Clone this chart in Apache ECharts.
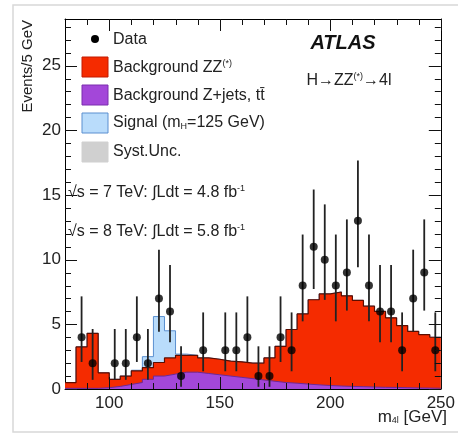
<!DOCTYPE html>
<html><head><meta charset="utf-8">
<script src="https://cdn.jsdelivr.net/npm/echarts@6/dist/echarts.min.js"></script>
<style>html,body{margin:0;padding:0;background:#fff}#c{width:458px;height:437px}</style>
</head><body><div id="c"></div>
<script>
// bin lower edges (5 GeV bins)
const binLowEdges = [80,85,90,95,100,105,110,115,120,125,130,135,140,145,150,155,160,165,170,175,180,185,190,195,200,205,210,215,220,225,230,235,240,245];
const binUpperLast = 250;
// total background (ZZ* + Z+jets): top of the red stack
const totalBackground = [0.5,3.25,4.3,1.25,0.75,1.0,1.4,1.65,2.05,2.4,2.6,2.6,2.4,2.3,2.15,2.1,2.0,2.0,2.4,3.3,4.6,5.8,6.9,7.35,7.5,7.2,6.85,6.4,6.0,5.5,4.9,4.45,4.2,4.0];
// Z+jets, ttbar background
const zjetsBackground = [0.05,0.05,0.05,0.1,0.2,0.35,0.5,0.75,1.0,1.15,1.3,1.3,1.2,1.1,1.0,0.9,0.8,0.7,0.6,0.5,0.45,0.38,0.32,0.27,0.23,0.2,0.18,0.15,0.13,0.12,0.1,0.08,0.07,0.06];
// signal mH=125 GeV stacked on top of background
const signal = [0,0,0,0,0,0,0.05,0.85,3.55,2.1,0.1,0,0,0,0,0,0,0,0,0,0,0,0,0,0,0,0,0,0,0,0,0,0,0];
// data
const binCenters = [82.5,87.5,92.5,97.5,102.5,107.5,112.5,117.5,122.5,127.5,132.5,137.5,142.5,147.5,152.5,157.5,162.5,167.5,172.5,177.5,182.5,187.5,192.5,197.5,202.5,207.5,212.5,217.5,222.5,227.5,232.5,237.5,242.5,247.5];
const dataCounts = [null,4,2,null,2,2,4,2,7,6,1,null,3,null,3,3,4,1,1,4,3,8,11,10,8,9,13,8,6,6,3,7,9,3];
const dataErrLow = [null,2.09,0.71,null,0.71,0.71,2.09,0.71,4.42,3.62,0.17,null,1.37,null,1.37,1.37,2.09,0.17,0.17,2.09,1.37,5.23,7.73,6.89,5.23,6.06,9.42,5.23,3.62,3.62,1.37,4.42,6.06,1.37];
const dataErrHigh = [null,7.16,4.64,null,4.64,4.64,7.16,4.64,10.77,9.58,3.30,null,5.92,null,5.92,5.92,7.16,3.30,3.30,7.16,5.92,11.94,15.42,14.27,11.94,13.11,17.67,11.94,9.58,9.58,5.92,10.77,13.11,5.92];
// tick positions
const xMajorTicks = [100,150,200,250];
const xMinorTicks = [90,110,120,130,140,160,170,180,190,210,220,230,240];
const yMajorTicks = [0,5,10,15,20,25];
const yMinorTicks = [1,2,3,4,6,7,8,9,11,12,13,14,16,17,18,19,21,22,23,24,26,27,28];
const xMin = 80, xMax = 250, yMin = 0, yMax = 28.6;

function stepData(vals){
  const d = binLowEdges.map((e,i)=>[e, vals[i]]);
  d.push([binUpperLast, vals[vals.length-1]]);
  return d;
}
const signalTop = totalBackground.map((v,i)=>v+signal[i]);

const FONT = 'Liberation Sans, Arial, sans-serif';
const chart = echarts.init(document.getElementById('c'), null, {renderer:'canvas'});
const black = {color:'#000', width:1};
const MAJ = 12, MIN = 6;
const TICKCOL = '#111';

const xTickItems = [];
xMajorTicks.forEach(v=>{ xTickItems.push([v, MAJ, 0]); xTickItems.push([v, MAJ, 1]); });
xMinorTicks.forEach(v=>{ xTickItems.push([v, MIN, 0]); xTickItems.push([v, MIN, 1]); });
const yTickItems = [];
yMajorTicks.forEach(v=>{ yTickItems.push([v, MAJ, 0]); yTickItems.push([v, MAJ, 1]); });
yMinorTicks.forEach(v=>{ yTickItems.push([v, MIN, 0]); yTickItems.push([v, MIN, 1]); });

function xTickRender(params, api){
  const it = xTickItems[params.dataIndex];
  const pt = api.coord([it[0], yMin]);
  const top = api.coord([it[0], yMax]);
  const px = Math.round(pt[0]) + 0.5;
  const y0 = it[2] === 0 ? pt[1] : top[1];
  const y1 = it[2] === 0 ? pt[1] - it[1] : top[1] + it[1];
  return {type:'line', shape:{x1:px, y1:y0, x2:px, y2:y1}, style:{stroke:TICKCOL, lineWidth:1}};
}
function yTickRender(params, api){
  const it = yTickItems[params.dataIndex];
  const pl = api.coord([xMin, it[0]]);
  const pr = api.coord([xMax, it[0]]);
  const py = Math.round(pl[1]) + 0.5;
  const x0 = it[2] === 0 ? pl[0] : pr[0];
  const x1 = it[2] === 0 ? pl[0] + it[1] : pr[0] - it[1];
  return {type:'line', shape:{x1:x0, y1:py, x2:x1, y2:py}, style:{stroke:TICKCOL, lineWidth:1}};
}

const option = {
  animation:false,
  backgroundColor:'#fff',
  grid:{left:65, top:19, width:382, height:370, containLabel:false},
  xAxis:[
    {type:'value', min:xMin, max:xMax, position:'bottom', splitLine:{show:false},
     axisLine:{show:true, onZero:false, lineStyle:black}, axisTick:{show:false},
     axisLabel:{show:true, customValues:xMajorTicks, fontSize:17, color:'#222', fontFamily:FONT, margin:6}},
    {type:'value', min:xMin, max:xMax, position:'top', splitLine:{show:false},
     axisLine:{show:true, onZero:false, lineStyle:black}, axisTick:{show:false}, axisLabel:{show:false}}
  ],
  yAxis:[
    {type:'value', min:yMin, max:yMax, interval:5, position:'left', splitLine:{show:false},
     axisLine:{show:true, onZero:false, lineStyle:black}, axisTick:{show:false},
     axisLabel:{show:true, fontSize:17, color:'#222', fontFamily:FONT, margin:4, showMaxLabel:false}},
    {type:'value', min:yMin, max:yMax, position:'right', splitLine:{show:false},
     axisLine:{show:true, onZero:false, lineStyle:black}, axisTick:{show:false}, axisLabel:{show:false}}
  ],
  series:[
    {type:'line', name:'Signal', xAxisIndex:0, yAxisIndex:0, step:'end', symbol:'none', data:stepData(signalTop),
     lineStyle:{color:'#5a8fd0', width:1}, areaStyle:{color:'#b9dcfb', opacity:1}, z:2},
    {type:'line', name:'ZZ', xAxisIndex:0, yAxisIndex:0, step:'end', symbol:'none', data:stepData(totalBackground),
     lineStyle:{color:'#5c0d00', width:1.2}, areaStyle:{color:'#f52b00', opacity:1}, z:3},
    {type:'line', name:'Zjets', xAxisIndex:0, yAxisIndex:0, step:'end', symbol:'none', data:stepData(zjetsBackground),
     lineStyle:{color:'#6b2a96', width:1}, areaStyle:{color:'#a347d9', opacity:1}, z:4},
    {type:'custom', name:'errors', xAxisIndex:0, yAxisIndex:0, z:5,
     data: binCenters.map((c,i)=>[c, dataErrLow[i], dataErrHigh[i]]).filter(d=>d[1]!==null),
     renderItem:function(params, api){
       const p1 = api.coord([api.value(0), api.value(1)]);
       const p2 = api.coord([api.value(0), api.value(2)]);
       return {type:'line', shape:{x1:p1[0], y1:p1[1], x2:p2[0], y2:p2[1]}, style:{stroke:'#222', lineWidth:1.8}};
     }},
    {type:'scatter', name:'Data', xAxisIndex:0, yAxisIndex:0, z:6, symbol:'circle', symbolSize:8,
     itemStyle:{color:'#000'},
     data: binCenters.map((c,i)=>[c, dataCounts[i]]).filter(d=>d[1]!==null)},
    {type:'custom', name:'xticks', xAxisIndex:0, yAxisIndex:0, z:8, silent:true,
     data: xTickItems.map(t=>[t[0], 1]), renderItem:xTickRender},
    {type:'custom', name:'yticks', xAxisIndex:0, yAxisIndex:0, z:8, silent:true,
     data: yTickItems.map(t=>[100, t[0]]), renderItem:yTickRender}
  ],
  graphic:[
    {type:'rect', shape:{x:13, y:5, width:460, height:427}, style:{fill:'none', stroke:'#d8d8d8', lineWidth:1.5}, z:-1, silent:true},
    {type:'text', x:28, y:20, rotation:Math.PI/2, style:{text:'Events/5 GeV', font:'15px '+FONT, fill:'#222', align:'right', verticalAlign:'middle'}},
    {type:'text', x:447, y:417, style:{text:'m{sub|4l} [GeV]', font:'17px '+FONT, fill:'#222', align:'right', verticalAlign:'middle',
      rich:{sub:{fontSize:9, verticalAlign:'bottom', padding:[8,0,0,0], fill:'#222'}}}},
    {type:'circle', shape:{cx:95, cy:39, r:4}, style:{fill:'#000'}, z:10},
    {type:'text', x:113, y:40, style:{text:'Data', font:'16px '+FONT, fill:'#222', verticalAlign:'middle'}, z:10},
    {type:'rect', shape:{x:82, y:57, width:26, height:20}, style:{fill:'#f52b00', stroke:'#c21a00', lineWidth:1}, z:10},
    {type:'text', x:113, y:68, style:{text:'Background ZZ{sup|(*)}', font:'16px '+FONT, fill:'#222', verticalAlign:'middle',
      rich:{sup:{fontSize:9, verticalAlign:'top', padding:[0,0,8,0], fill:'#222'}}}, z:10},
    {type:'rect', shape:{x:82, y:85, width:26, height:20}, style:{fill:'#a347d9', stroke:'#7b2fae', lineWidth:1}, z:10},
    {type:'text', x:113, y:96, style:{text:'Background Z+jets, t\u0074\u0304', font:'16px '+FONT, fill:'#222', verticalAlign:'middle'}, z:10},
    {type:'rect', shape:{x:82, y:113, width:26, height:20}, style:{fill:'#b9dcfb', stroke:'#5a8fd0', lineWidth:1}, z:10},
    {type:'text', x:113, y:123, style:{text:'Signal (m{sub|H}=125 GeV)', font:'16px '+FONT, fill:'#222', verticalAlign:'middle',
      rich:{sub:{fontSize:9, verticalAlign:'bottom', padding:[8,0,0,0], fill:'#222'}}}, z:10},
    {type:'rect', shape:{x:82, y:142, width:26, height:20}, style:{fill:'#d0d0d0', stroke:'#d0d0d0', lineWidth:1}, z:10},
    {type:'text', x:113, y:152, style:{text:'Syst.Unc.', font:'16px '+FONT, fill:'#222', verticalAlign:'middle'}, z:10},
    {type:'text', x:68, y:193, style:{text:'\u221As = 7 TeV: \u222BLdt = 4.8 fb{sup|-1}', font:'16px '+FONT, fill:'#222', verticalAlign:'middle',
      rich:{sup:{fontSize:9, verticalAlign:'top', padding:[0,0,8,0], fill:'#222'}}}, z:10},
    {type:'text', x:68, y:232, style:{text:'\u221As = 8 TeV: \u222BLdt = 5.8 fb{sup|-1}', font:'16px '+FONT, fill:'#222', verticalAlign:'middle',
      rich:{sup:{fontSize:9, verticalAlign:'top', padding:[0,0,8,0], fill:'#222'}}}, z:10},
    {type:'text', x:343, y:43, style:{text:'ATLAS', font:'italic bold 20px '+FONT, fill:'#111', align:'center', verticalAlign:'middle'}, z:10},
    {type:'text', x:349, y:81, style:{text:'H\u2192ZZ{sup|(*)}\u21924l', font:'16px '+FONT, fill:'#222', align:'center', verticalAlign:'middle',
      rich:{sup:{fontSize:9, verticalAlign:'top', padding:[0,0,8,0], fill:'#222'}}}, z:10}
  ]
};
chart.setOption(option);
</script>
</body></html>
